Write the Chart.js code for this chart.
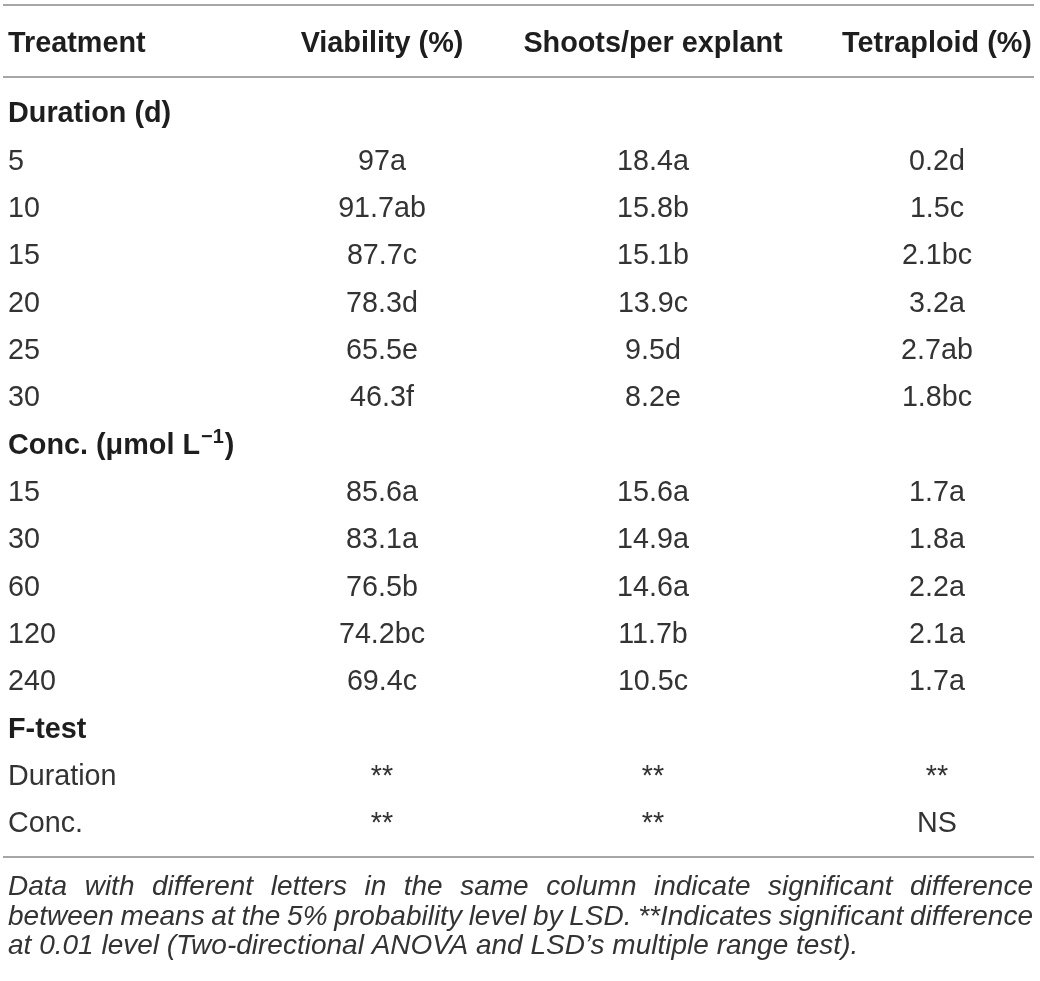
<!DOCTYPE html>
<html><head><meta charset="utf-8">
<script src="https://cdn.jsdelivr.net/npm/chart.js@4"></script>
<style>html,body{margin:0;padding:0;background:#fff;overflow:hidden}#wrap{width:1040px;height:981px;position:relative}canvas{display:block}</style>
</head><body><div id="wrap"><canvas id="c" width="1040" height="981"></canvas></div>
<script>
// ---- data ----
const headers = ['Treatment', 'Viability (%)', 'Shoots/per explant', 'Tetraploid (%)'];
const rowLabels = ['Duration (d)', '5', '10', '15', '20', '25', '30', 'Conc. (μmol L⁻¹)', '15', '30', '60', '120', '240', 'F-test', 'Duration', 'Conc.'];
const sectionRows = [0, 7, 13];
const viability = ['', '97a', '91.7ab', '87.7c', '78.3d', '65.5e', '46.3f', '', '85.6a', '83.1a', '76.5b', '74.2bc', '69.4c', '', '**', '**'];
const shoots = ['', '18.4a', '15.8b', '15.1b', '13.9c', '9.5d', '8.2e', '', '15.6a', '14.9a', '14.6a', '11.7b', '10.5c', '', '**', '**'];
const tetraploid = ['', '0.2d', '1.5c', '2.1bc', '3.2a', '2.7ab', '1.8bc', '', '1.7a', '1.8a', '2.2a', '2.1a', '1.7a', '', '**', 'NS'];
const footnote = [
  'Data with different letters in the same column indicate significant difference',
  'between means at the 5% probability level by LSD. **Indicates significant difference',
  'at 0.01 level (Two-directional ANOVA and LSD\u2019s multiple range test).'
];

// ---- layout (not data) ----
const COL_X = [8, 382, 653, 937];
const HEADER_ROW = -1.48;
const RULES = [-2.262, -0.735, 15.74];
const FOOT_ROWS = [16.33, 16.955, 17.577];
const FONT = '"Liberation Sans", Arial, Helvetica, sans-serif';
const FS_HEAD = 28.8;
const FS_BODY = 28.7;
const FS_FOOT = 28;

const columns = [rowLabels, viability, shoots, tetraploid];

function drawRich(ctx, text, x, y, align, bold, fs) {
  const base = (bold ? 'bold ' : '') + fs + 'px ' + FONT;
  ctx.font = base;
  if (text.indexOf('⁻¹') < 0) {
    ctx.textAlign = align;
    ctx.fillText(text, x, y);
    return;
  }
  const parts = text.split('⁻¹');
  ctx.textAlign = 'left';
  let cx = x;
  ctx.fillText(parts[0], cx, y);
  cx += ctx.measureText(parts[0]).width + 1;
  ctx.font = (bold ? 'bold ' : '') + Math.round(fs * 0.7) + 'px ' + FONT;
  ctx.fillText('\u22121', cx, y - fs * 0.38);
  cx += ctx.measureText('\u22121').width + 1;
  ctx.font = base;
  ctx.fillText(parts[1], cx, y);
}

const tablePlugin = {
  id: 'tablePlugin',
  afterDatasetsDraw(chart) {
    const ctx = chart.ctx;
    const xs = chart.scales.x, ys = chart.scales.y;
    ctx.save();
    ctx.textBaseline = 'alphabetic';
    // rules
    ctx.strokeStyle = '#a6a6a6';
    ctx.lineWidth = 2;
    RULES.forEach(r => {
      const py = Math.round(ys.getPixelForValue(r));
      ctx.beginPath();
      ctx.moveTo(xs.getPixelForValue(3), py);
      ctx.lineTo(xs.getPixelForValue(1034), py);
      ctx.stroke();
    });
    // headers
    ctx.fillStyle = '#1e1e1e';
    headers.forEach((h, i) => {
      const px = xs.getPixelForValue(COL_X[i]);
      const py = ys.getPixelForValue(HEADER_ROW) + 0.36 * FS_HEAD;
      drawRich(ctx, h, px, py, i === 0 ? 'left' : 'center', true, FS_HEAD);
    });
    // cells from dataset elements
    chart.data.datasets.forEach((ds, di) => {
      const meta = chart.getDatasetMeta(di);
      meta.data.forEach((el, j) => {
        const t = columns[di][j];
        if (!t) return;
        const bold = di === 0 && sectionRows.includes(j);
        const fs = bold ? FS_HEAD : FS_BODY;
        ctx.fillStyle = bold ? '#1e1e1e' : '#333333';
        drawRich(ctx, t, el.x, el.y + 0.36 * fs, di === 0 ? 'left' : 'center', bold, fs);
      });
    });
    // footnote (justified)
    ctx.fillStyle = '#333333';
    ctx.font = 'italic ' + FS_FOOT + 'px ' + FONT;
    ctx.textAlign = 'left';
    const left = xs.getPixelForValue(8), right = xs.getPixelForValue(1033);
    footnote.forEach((line, k) => {
      const py = ys.getPixelForValue(FOOT_ROWS[k]) + 0.36 * FS_FOOT;
      const words = line.split(' ');
      const justify = k < footnote.length - 1;
      if (!justify) {
        ctx.fillText(line, left, py);
        return;
      }
      const ww = words.map(w => ctx.measureText(w).width);
      const sum = ww.reduce((a, b) => a + b, 0);
      let gap = (right - left - sum) / (words.length - 1);
      let sx = 1;
      const minGap = ctx.measureText(' ').width * 0.6;
      if (gap < minGap) {
        sx = (right - left) / (sum + minGap * (words.length - 1));
        gap = minGap;
      }
      ctx.save();
      ctx.translate(left, py);
      ctx.scale(sx, 1);
      let cx = 0;
      words.forEach((w, i) => { ctx.fillText(w, cx, 0); cx += ww[i] + gap; });
      ctx.restore();
    });
    ctx.restore();
  }
};

const datasets = columns.map((col, ci) => ({
  label: headers[ci],
  data: col.map((_, ri) => ({ x: COL_X[ci], y: ri })),
  pointRadius: 0,
  showLine: false
}));

new Chart(document.getElementById('c'), {
  type: 'scatter',
  data: { datasets },
  options: {
    responsive: false,
    animation: false,
    events: [],
    devicePixelRatio: 1,
    layout: { padding: 0 },
    plugins: { legend: { display: false }, tooltip: { enabled: false }, title: { display: false } },
    scales: {
      x: { type: 'linear', display: false, min: 0, max: 1040 },
      y: { type: 'linear', display: false, reverse: true, min: -112 / 47.333, max: (981 - 112) / 47.333 }
    }
  },
  plugins: [tablePlugin]
});
</script>
</body></html>
